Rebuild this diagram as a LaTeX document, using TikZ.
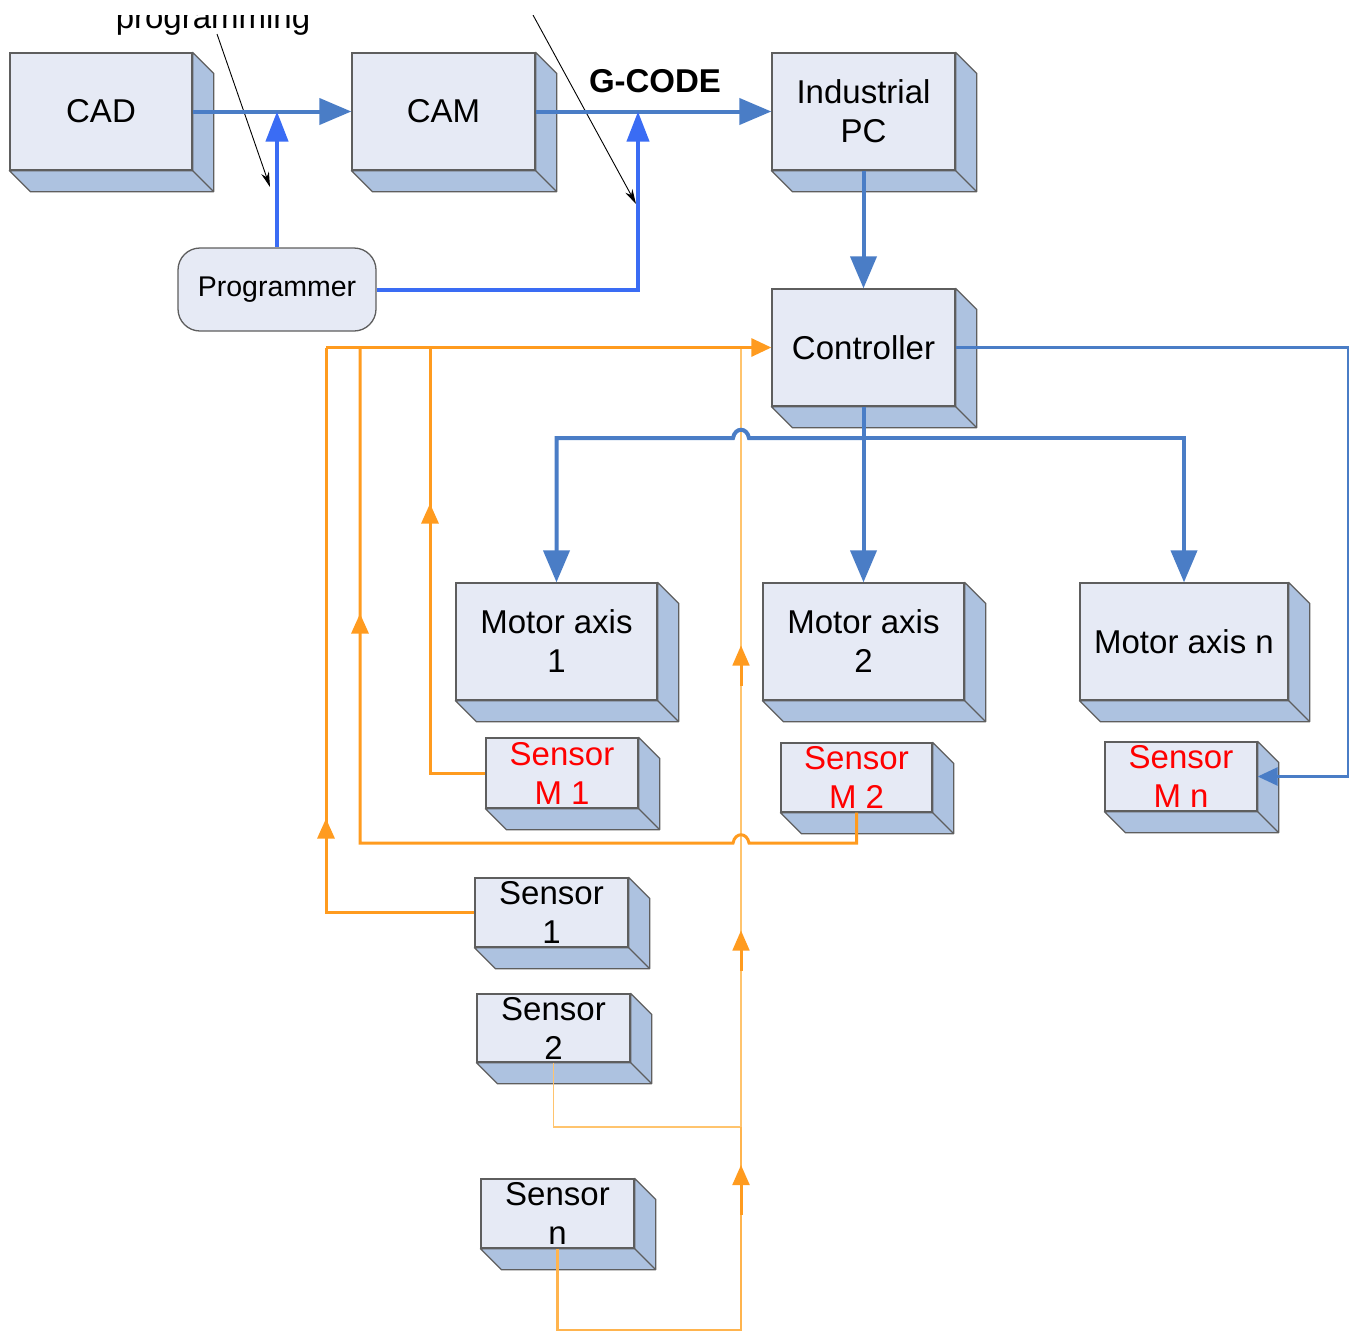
\documentclass[tikz,border=0pt]{standalone}
\usepackage{fontspec}
\setmainfont{Liberation Sans}
\usetikzlibrary{arrows.meta,decorations.markings,calc}
\definecolor{facecol}{HTML}{E6EAF5}
\definecolor{sidecol}{HTML}{ADC2E0}
\definecolor{edgecol}{HTML}{5E5E5E}
\definecolor{steel}{HTML}{4A7DC6}
\definecolor{brightblue}{HTML}{3A6CF4}
\definecolor{orng}{HTML}{FF9B1F}
\definecolor{lightorng}{HTML}{FFC46E}
\definecolor{sred}{HTML}{FF0000}
\begin{document}
\begin{tikzpicture}[x=1pt,y=-1pt,
  cube/.style={draw=edgecol, line width=1.3pt, fill=facecol, inner sep=0pt, align=center,
    font=\fontsize{33}{39}\selectfont},
  sideface/.style={draw=edgecol, line width=1.3pt, fill=sidecol, line join=round},
  progbox/.style={draw=edgecol, line width=1.3pt, fill=facecol, rounded corners=22pt,
    inner sep=0pt, font=\fontsize{28.5}{34}\selectfont},
  bluebus/.style={draw=steel, line width=4pt},
  bluethin/.style={draw=steel, line width=2.6pt},
  progline/.style={draw=brightblue, line width=4pt},
  bigtip/.style={-{Triangle[length=32pt,width=26pt]}},
  midtip/.style={-{Triangle[length=30pt,width=22pt]}},
  smalltip/.style={-{Triangle[length=20pt,width=18pt]}},
  orline/.style={draw=orng, line width=3pt},
  orthin/.style={draw=lightorng, line width=1.6pt},
  ormed/.style={draw=lightorng!60!orng, line width=2.2pt},
  upmark/.style={postaction={decorate}, decoration={markings,
    mark=at position -#1pt with {\arrow[orng]{Triangle[length=20pt,width=17pt]}}}},
  note/.style={draw=black, line width=0.9pt, -{Stealth[length=15pt,width=8pt]}},
  sredtext/.style={text=sred}
]
\useasboundingbox (0,0) rectangle (1356,1333);

% annotation texts (cut off at the top, as in the source)
\begin{scope}
  \clip (0,15) rectangle (1356,1333);
  \node[anchor=base, font=\fontsize{33}{39}\selectfont] (progtxt) at (213,28) {programming};
  \coordinate (a1s) at (217,34);
  \coordinate (a1e) at (270,187);
  \coordinate (a2s) at (533,15);
  \coordinate (a2e) at (636,204);
  \draw[note] (a1s) -- (a1e);
  \draw[note] (a2s) -- (a2e);
\end{scope}
\node[font=\bfseries\fontsize{33}{39}\selectfont] (gcode) at (655,81) {G-CODE};

% cube faces
\node[cube, minimum width=182pt, minimum height=117pt] (cad) at (101,111.5) {CAD};
\node[cube, minimum width=183pt, minimum height=117pt] (cam) at (443.5,111.5) {CAM};
\node[cube, minimum width=183pt, minimum height=117pt] (ipc) at (863.5,111.5) {Industrial\\PC};
\node[cube, minimum width=183pt, minimum height=117pt] (ctrl) at (863.5,347.5) {Controller};
\node[cube, minimum width=201pt, minimum height=117pt] (ma1) at (556.5,641.5) {Motor axis\\1};
\node[cube, minimum width=201pt, minimum height=117pt] (ma2) at (863.5,641.5) {Motor axis\\2};
\node[cube, minimum width=208pt, minimum height=117pt] (man) at (1184,641.5) {Motor axis n};
\node[cube, text=sred, minimum width=152pt, minimum height=70pt] (sm1) at (562,773) {Sensor\\M 1};
\node[cube, text=sred, minimum width=151pt, minimum height=69pt] (sm2) at (856.5,777.5) {Sensor\\M 2};
\node[cube, text=sred, minimum width=152pt, minimum height=69pt] (smn) at (1181,776.5) {Sensor\\M n};
\node[cube, minimum width=153pt, minimum height=69pt] (s1) at (551.5,912.5) {Sensor\\1};
\node[cube, minimum width=153pt, minimum height=68pt] (s2) at (553.5,1028) {Sensor\\2};
\node[cube, minimum width=153pt, minimum height=69pt] (sn) at (557.5,1213.5) {Sensor\\n};
\node[progbox, minimum width=198pt, minimum height=83pt] (prog) at (277,289.5) {Programmer};

% cube depth
\foreach \n in {cad,cam,ipc,ctrl,ma1,ma2,man,sm1,sm2,smn,s1,s2,sn} {
  \filldraw[sideface] (\n.north east) -- ++(21,21) -- ($(\n.south east)+(21,21)$)
     -- ($(\n.south west)+(21,21)$) -- (\n.south west) -- (\n.south east) -- cycle;
  \draw[sideface, fill=none] (\n.south east) -- ++(21,21);
}

% junction coordinates
\coordinate (busJ) at (863.5,438);
\coordinate (rt) at (1348,347.5);
\coordinate (gj) at (638,111.5);
\coordinate (trunk) at (326,347.5);
\coordinate (j1) at (430,347.5);
\coordinate (j2) at (360,347.5);
\coordinate (j3) at (741,347.5);
\coordinate (j4) at (741,1127);

% orange sensor lines
\draw[orthin, postaction={decorate}, decoration={markings,
   mark=at position -298pt with {\draw[orng, line width=3pt] (-8,0) -- (-40,0); \arrow[orng]{Triangle[length=20pt,width=17pt]}},
   mark=at position -583pt with {\draw[orng, line width=3pt] (-8,0) -- (-40,0); \arrow[orng]{Triangle[length=20pt,width=17pt]}}}]
   (s2.south) -- (s2.south |- j4) -- (j4) -- (j3);
\draw[ormed, postaction={decorate}, decoration={markings,
   mark=at position -38pt with {\draw[orng, line width=3pt] (-8,0) -- (-50,0); \arrow[orng]{Triangle[length=20pt,width=17pt]}}}]
   (sn.south) -- (557.5,1330) -- (741,1330) -- (j4);
\draw[orline, upmark=471] (s1.west) -| (trunk);
\draw[orline, upmark=156] (sm1.west) -| (j1);
\draw[orline, upmark=266] (sm2.south) -- (856.5,843) -- (749,843)
   .. controls (747,832) and (735,832) .. (733,843) -- (360,843) -- (j2);
\draw[orline, smalltip] (trunk) -- (ctrl.west);

% blue connectors
\draw[bluebus, bigtip] (cad.east) -- (cam.west);
\draw[bluebus, bigtip] (cam.east) -- (ipc.west);
\draw[bluebus, bigtip] (ipc.south) -- (ctrl.north);
\draw[bluebus, bigtip] (ctrl.south) -- (ma2.north);
\draw[bluebus, bigtip] (busJ) -- (749,438) .. controls (747,427) and (735,427) .. (733,438)
   -- (ma1.north |- busJ) -- (ma1.north);
\draw[bluebus, bigtip] (busJ) -| (man.north);
\draw[bluethin, smalltip] (ctrl.east) -- (rt) |- (smn.east);
\draw[progline, midtip] (prog.north) -- (prog.north |- cad.east);
\draw[progline, midtip] (prog.east) -| (gj);
\end{tikzpicture}
\end{document}
